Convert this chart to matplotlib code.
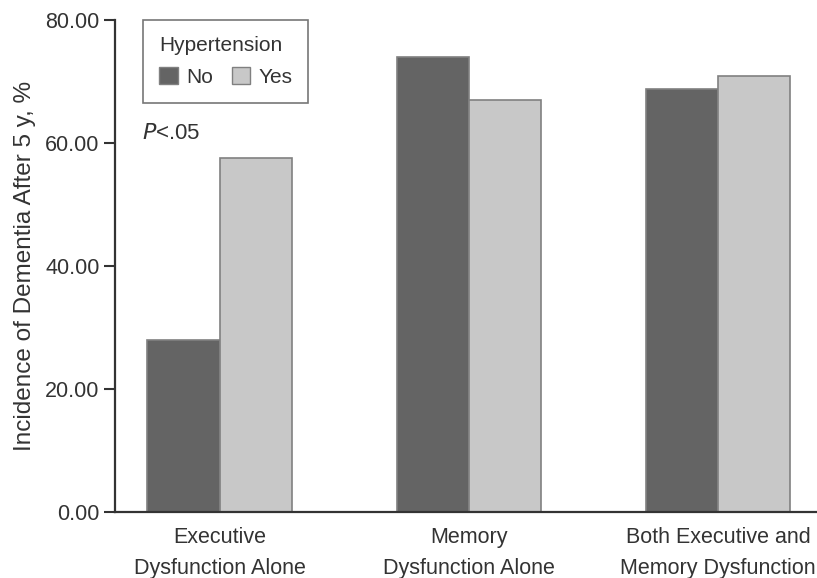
import numpy as np
import matplotlib
matplotlib.use('Agg')
import matplotlib.pyplot as plt
from matplotlib.patches import Patch

plt.rcParams['font.family'] = ['Liberation Sans', 'DejaVu Sans']

# incidence of dementia (%) by dysfunction group and hypertension status
groups = ['Executive\nDysfunction Alone', 'Memory\nDysfunction Alone',
          'Both Executive and\nMemory Dysfunction']
no_htn = [28.0, 74.0, 68.8]
yes_htn = [57.6, 67.0, 70.9]
yticks = [0, 20, 40, 60, 80]

dark = '#646464'
light = '#c8c8c8'
edge = '#808080'
ink = '#333333'

fig = plt.figure(figsize=(8.17, 5.78), dpi=100)
ax = fig.add_axes([115 / 817, 66 / 578, 1 - 115 / 817 + 0.01, (512 - 20) / 578])

x = np.arange(len(groups))
w = 0.29
ax.bar(x - w / 2, no_htn, w, color=dark, edgecolor=edge, linewidth=1.2)
ax.bar(x + w / 2, yes_htn, w, color=light, edgecolor=edge, linewidth=1.2)

ax.set_ylim(0, 80)
ax.set_xlim(-0.42, 2.43)
ax.set_yticks(yticks)
ax.set_yticklabels([f'{v:.2f}' for v in yticks])
ax.set_xticks(x)
ax.set_xticklabels(groups, linespacing=1.6)
ax.tick_params(axis='y', length=8, width=1.5, color=ink, labelsize=15.5,
               labelcolor=ink, pad=3)
ax.tick_params(axis='x', length=0, labelsize=15.5, labelcolor=ink, pad=11)
for s in ['top', 'right']:
    ax.spines[s].set_visible(False)
for s in ['left', 'bottom']:
    ax.spines[s].set_color(ink)
    ax.spines[s].set_linewidth(1.6)

ax.set_ylabel('Incidence of Dementia After 5 y, %', fontsize=17.5, color=ink,
              labelpad=7)

ax.text(-0.31, 61.5, '$P$<.05', fontsize=16, color=ink, va='center', ha='left',
        math_fontfamily='dejavusans')

handles = [Patch(facecolor=dark, edgecolor=edge, label='No'),
           Patch(facecolor=light, edgecolor=edge, label='Yes')]
leg = ax.legend(handles=handles, title='Hypertension', ncol=2,
                loc='upper left', bbox_to_anchor=(0.04, 1.0), borderaxespad=0,
                fontsize=15, title_fontsize=15, frameon=True, fancybox=False,
                handlelength=0.9, handleheight=0.9, handletextpad=0.4,
                columnspacing=0.9, borderpad=0.75, labelspacing=0.6)
leg._legend_box.align = 'left'
leg.get_frame().set_edgecolor('#555555')
leg.get_frame().set_linewidth(1.2)
for t in leg.get_texts():
    t.set_color(ink)
leg.get_title().set_color(ink)

fig.savefig('out.png', dpi=100)
